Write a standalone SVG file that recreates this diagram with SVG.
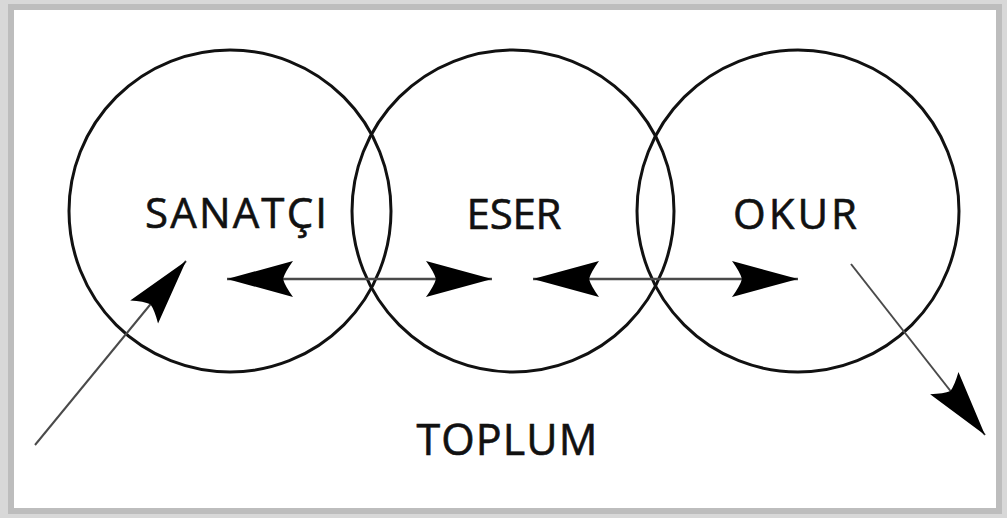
<svg xmlns="http://www.w3.org/2000/svg" width="1007" height="518" viewBox="0 0 1007 518">
  <style>
    .ring { fill: none; stroke: #111; stroke-width: 3; }
    .lbl { font-family: "Open Sans", "Noto Sans", "Liberation Sans", sans-serif; font-size: 42px; fill: #111; stroke: #111; stroke-width: 0.6; text-anchor: middle; }
    .conn { fill: none; stroke: #4a4a4a; stroke-width: 2.5; }
    .diag { fill: none; stroke: #4a4a4a; stroke-width: 2; }
  </style>
  <defs>
    <marker id="head" markerUnits="userSpaceOnUse" markerWidth="80" markerHeight="50" viewBox="-70 -25 80 50" refX="0" refY="0" orient="auto-start-reverse">
      <path d="M0,0 L-66,-18 Q-58,-7 -56,0 Q-58,7 -66,18 Z" fill="#000"/>
    </marker>
  </defs>
  <!-- frame -->
  <rect x="0" y="0" width="1007" height="518" fill="#d8d8d8"/>
  <rect x="8" y="4" width="994" height="510" fill="#bdbdbd"/>
  <rect x="14" y="10" width="982" height="498" fill="#ffffff"/>

  <g id="sanatci">
    <circle class="ring" cx="230" cy="211" r="161"/>
    <text class="lbl" x="236" y="228" textLength="182" lengthAdjust="spacing">SANATÇI</text>
  </g>
  <g id="eser">
    <circle class="ring" cx="513" cy="211" r="161"/>
    <text class="lbl" x="514" y="229" textLength="95" lengthAdjust="spacing">ESER</text>
  </g>
  <g id="okur">
    <circle class="ring" cx="798" cy="211" r="161"/>
    <text class="lbl" x="795" y="229" textLength="124" lengthAdjust="spacing">OKUR</text>
  </g>
  <g id="toplum">
    <text class="lbl" x="507" y="455" style="font-size:43px" textLength="181" lengthAdjust="spacing">TOPLUM</text>
  </g>

  <g id="connectors">
    <line class="conn" x1="227" y1="279" x2="492" y2="279" marker-start="url(#head)" marker-end="url(#head)"/>
    <line class="conn" x1="533" y1="279" x2="798" y2="279" marker-start="url(#head)" marker-end="url(#head)"/>
    <line class="diag" x1="35" y1="445" x2="186" y2="261" marker-end="url(#head)"/>
    <line class="diag" x1="851" y1="264" x2="985" y2="435" marker-end="url(#head)"/>
  </g>
</svg>
